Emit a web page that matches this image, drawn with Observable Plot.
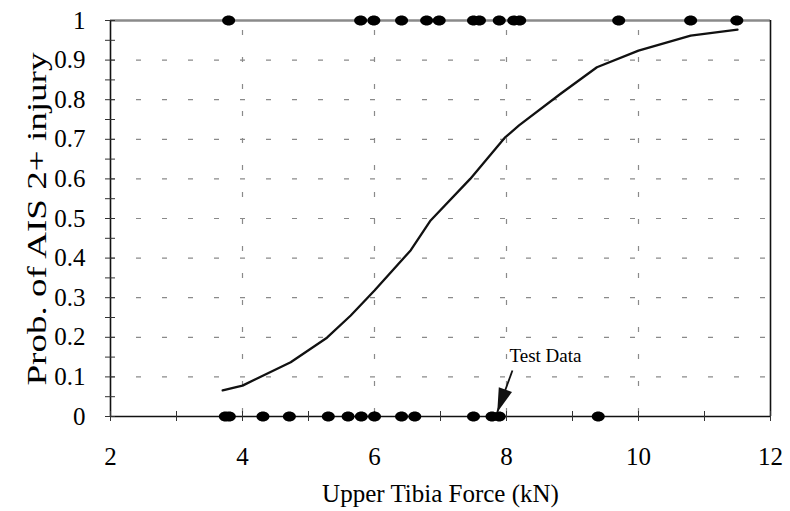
<!DOCTYPE html>
<html>
<head>
<meta charset="utf-8">
<script src="https://cdn.jsdelivr.net/npm/d3@7"></script>
<script src="https://cdn.jsdelivr.net/npm/@observablehq/plot@0.6"></script>
<style>
  html, body { margin: 0; padding: 0; background: white; }
</style>
</head>
<body>
<div id="chart"></div>
<script>
// ---- data ----
const injuredForce = [3.79, 5.79, 5.99, 6.41, 6.79, 6.98, 7.50, 7.59, 7.89, 8.11, 8.20, 9.70, 10.79, 11.49];
const uninjuredForce = [3.74, 3.80, 4.31, 4.71, 5.30, 5.60, 5.80, 6.00, 6.41, 6.61, 7.50, 7.78, 7.89, 9.39];
const curveForce = [3.70, 4.00, 4.73, 5.28, 5.64, 6.00, 6.55, 6.85, 7.45, 7.98, 8.19, 8.82, 9.37, 10.00, 10.79, 11.50];
const curveProb  = [0.066, 0.078, 0.137, 0.199, 0.255, 0.318, 0.420, 0.495, 0.600, 0.705, 0.735, 0.815, 0.882, 0.924, 0.962, 0.977];
const yTicks = [0, 0.1, 0.2, 0.3, 0.4, 0.5, 0.6, 0.7, 0.8, 0.9, 1];
const yTickLabels = ["0", "0.1", "0.2", "0.3", "0.4", "0.5", "0.6", "0.7", "0.8", "0.9", "1"];
const yMinorTicks = [0, 0.05, 0.1, 0.15, 0.2, 0.25, 0.3, 0.35, 0.4, 0.45, 0.5, 0.55, 0.6, 0.65, 0.7, 0.75, 0.8, 0.85, 0.9, 0.95, 1];
const yGrid = [0.1, 0.2, 0.3, 0.4, 0.5, 0.6, 0.7, 0.8, 0.9];
const xTicks = [2, 4, 6, 8, 10, 12];
const xTickLabels = ["2", "4", "6", "8", "10", "12"];
const xMinorTicks = [2, 3, 4, 5, 6, 7, 8, 9, 10, 11, 12];
const xGrid = [4, 6, 8, 10];
const annoLabel = ["Test Data"];
const annoTextPos = [{x: 8.045, y: 0.154}];
const annoArrow = [{x1: 8.09, y1: 0.116, x2: 7.86, y2: 0.011}];
const xTitle = "Upper Tibia Force (kN)";
const yTitle = "Prob. of AIS 2+ injury";

// ---- build tables ----
const points = [
  ...injuredForce.map(x => ({x, y: 1})),
  ...uninjuredForce.map(x => ({x, y: 0}))
];
const curve = curveForce.map((x, i) => ({x, y: curveProb[i]}));

// custom symbols
const ellipse = {
  draw(ctx) {
    const rx = 6.5, ry = 5, k = 0.5523;
    ctx.moveTo(rx, 0);
    ctx.bezierCurveTo(rx, ry * k, rx * k, ry, 0, ry);
    ctx.bezierCurveTo(-rx * k, ry, -rx, ry * k, -rx, 0);
    ctx.bezierCurveTo(-rx, -ry * k, -rx * k, -ry, 0, -ry);
    ctx.bezierCurveTo(rx * k, -ry, rx, -ry * k, rx, 0);
    ctx.closePath();
  }
};
const arrowHead = {
  draw(ctx) {
    ctx.moveTo(0, 0);
    ctx.lineTo(-7, 24);
    ctx.lineTo(7, 24);
    ctx.closePath();
  }
};

const chart = Plot.plot({
  width: 790,
  height: 511,
  marginLeft: 110,
  marginRight: 20,
  marginTop: 20,
  marginBottom: 95,
  style: {fontFamily: "'Liberation Serif', 'Times New Roman', serif", background: "white", color: "black"},
  x: {domain: [2, 12]},
  y: {domain: [0, 1]},
  marks: [
    Plot.gridY(yGrid, {stroke: "#8a8a8a", strokeOpacity: 1, strokeWidth: 1.2, strokeDasharray: "5,21"}),
    Plot.gridX(xGrid, {stroke: "#8a8a8a", strokeOpacity: 1, strokeWidth: 1.2, strokeDasharray: "5,22", strokeDashoffset: -10}),
    Plot.ruleY([1], {stroke: "#8a8a8a", strokeWidth: 2.6}),
    Plot.ruleX([12], {stroke: "#111", strokeWidth: 1.6}),
    Plot.ruleY([0], {stroke: "#111", strokeWidth: 1.6}),
    Plot.ruleX([2], {stroke: "#111", strokeWidth: 1.6}),
    // y ticks (crossing the axis)
    Plot.axisY({ticks: yMinorTicks, tickSize: 10, dx: 5, tickFormat: () => "", label: null, stroke: "#333"}),
    Plot.axisY({ticks: yTicks, tickSize: 0, tickPadding: 25, label: null, fontSize: 25, fill: "black",
      tickFormat: d => yTickLabels[yTicks.indexOf(d)]}),
    // x ticks (crossing the axis)
    Plot.axisX({ticks: xMinorTicks, tickSize: 10, dy: -5, tickFormat: () => "", label: null, stroke: "#333"}),
    Plot.axisX({ticks: xTicks, tickSize: 0, tickPadding: 31, label: null, fontSize: 25, fill: "black",
      tickFormat: d => xTickLabels[xTicks.indexOf(d)]}),
    // titles
    Plot.text([xTitle], {frameAnchor: "bottom", dy: 77, text: d => d, fontSize: 25, fill: "black", lineAnchor: "middle"}),
    Plot.text([yTitle], {frameAnchor: "left", dx: -73, dy: 167, rotate: -90, text: d => d, fontSize: 27, fill: "black", lineAnchor: "middle", textAnchor: "start"}),
    // logistic curve
    Plot.line(curve, {x: "x", y: "y", stroke: "#111", strokeWidth: 2.3}),
    // data points
    Plot.dot(points, {x: "x", y: "y", symbol: ellipse, fill: "black", stroke: "none"}),
    // annotation
    Plot.link(annoArrow, {x1: "x1", y1: "y1", x2: "x2", y2: "y2", stroke: "#111", strokeWidth: 1.8}),
    Plot.dot(annoArrow, {x: "x2", y: "y2", symbol: arrowHead, fill: "#111", stroke: "none", rotate: 199.8}),
    Plot.text(annoTextPos, {x: "x", y: "y", text: (d, i) => annoLabel[i], textAnchor: "start", lineAnchor: "middle", fontSize: 19, fill: "black"})
  ]
});

// stretch the y title to its length in the reference
d3.select(chart).selectAll("text").filter(function() { return this.textContent === yTitle; })
  .attr("textLength", 333).attr("lengthAdjust", "spacingAndGlyphs");

document.getElementById("chart").appendChild(chart);
</script>
</body>
</html>
